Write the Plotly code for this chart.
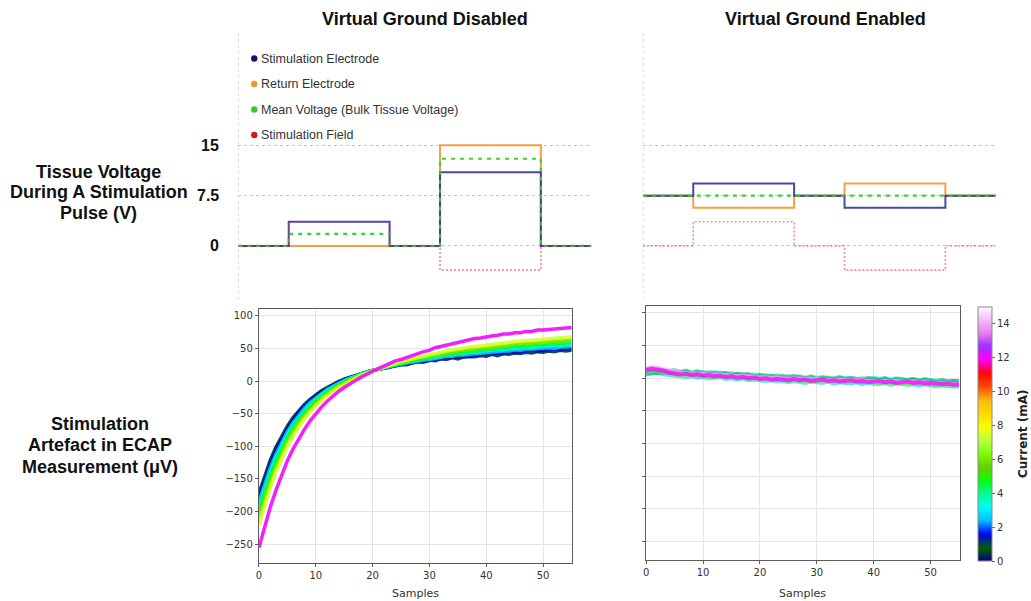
import numpy as np
import plotly.graph_objects as go

W, H = 1031, 601


def fx(p):
    return p / W


def fy(p):
    return 1 - p / H


# ---------------- top row: tissue voltage during the pulse ----------------
PULSE_T = [0, 1, 3, 4, 6, 7]

DIS_STIM = [0, 3.6, 0, 11, 0, 0]
DIS_RETURN = [0, 0, 0, 15, 0, 0]
DIS_MEAN = [0, 1.8, 0, 13, 0, 0]
DIS_FIELD = [0, 3.6, 0, -3.6, 0, 0]

EN_STIM = [7.5, 9.3, 7.5, 5.7, 7.5, 7.5]
EN_RETURN = [7.5, 5.7, 7.5, 9.3, 7.5, 7.5]
EN_MEAN = [7.5, 7.5, 7.5, 7.5, 7.5, 7.5]
EN_FIELD = [0, 3.6, 0, -3.6, 0, 0]

VOLT_TICKS = [0, 7.5, 15]
VOLT_TICK_TEXT = ["0", "7.5", "15"]

LEGEND_LABELS = ["Stimulation Electrode", "Return Electrode",
                 "Mean Voltage (Bulk Tissue Voltage)", "Stimulation Field"]

# ---------------- bottom row: stimulation artefact (uV) ----------------
SAMPLES = list(range(56))

# artefact with virtual ground disabled, one trace per stimulation current (mA)
DIS_CURRENTS = [0.5, 1.5, 2.5, 3.5, 4.5, 6, 7.5, 12]
DIS_ART_0p5 = [-172, -145, -121, -101, -84, -69, -56, -45, -36, -28, -21, -15, -10, -5, -1, 3, 6, 9, 12, 14,
               16, 18, 19, 22, 23, 25, 25, 28, 29, 29, 32, 31, 34, 33, 36, 34, 37, 37, 37, 39,
               38, 41, 39, 42, 41, 43, 42, 44, 43, 45, 44, 46, 45, 47, 46, 47]
DIS_ART_1p5 = [-179, -151, -127, -106, -89, -73, -60, -48, -39, -31, -23, -17, -12, -6, -2, 2, 5, 8, 12, 14,
               16, 18, 20, 22, 24, 25, 27, 28, 30, 30, 32, 33, 34, 36, 36, 38, 37, 39, 40, 40,
               41, 41, 43, 42, 44, 44, 45, 45, 47, 46, 48, 48, 49, 48, 50, 50]
DIS_ART_2p5 = [-185, -157, -133, -112, -94, -78, -64, -52, -42, -33, -26, -19, -13, -8, -3, 1, 4, 8, 11, 14,
               16, 18, 20, 23, 24, 26, 28, 29, 31, 32, 33, 35, 36, 38, 38, 40, 40, 41, 42, 43,
               43, 45, 45, 46, 46, 48, 47, 49, 49, 50, 50, 51, 50, 52, 52, 53]
DIS_ART_3p5 = [-193, -164, -139, -118, -99, -82, -68, -56, -46, -36, -28, -21, -15, -10, -5, 0, 4, 7, 11, 13,
               16, 18, 21, 23, 25, 27, 28, 31, 32, 34, 35, 36, 38, 40, 40, 42, 42, 44, 44, 46,
               46, 47, 49, 48, 50, 50, 51, 52, 51, 53, 53, 54, 55, 54, 56, 56]
DIS_ART_4p5 = [-199, -170, -145, -123, -104, -87, -72, -59, -49, -39, -31, -23, -17, -11, -6, -1, 3, 6, 10, 13,
               16, 18, 21, 24, 25, 28, 29, 31, 33, 35, 36, 38, 40, 41, 42, 43, 45, 46, 46, 48,
               48, 49, 51, 51, 52, 53, 53, 54, 55, 56, 55, 57, 57, 58, 58, 59]
DIS_ART_6 = [-209, -180, -153, -131, -111, -93, -78, -64, -53, -43, -34, -26, -20, -13, -8, -3, 2, 5, 9, 13,
             16, 19, 21, 24, 26, 29, 30, 33, 35, 37, 38, 40, 42, 43, 45, 46, 47, 48, 50, 51,
             52, 52, 54, 54, 55, 56, 57, 57, 58, 59, 60, 60, 61, 61, 62, 63]
DIS_ART_7p5 = [-220, -190, -163, -139, -119, -100, -84, -70, -58, -47, -38, -30, -22, -15, -10, -5, 0, 4, 9, 12,
               15, 19, 22, 25, 27, 30, 32, 34, 37, 39, 40, 42, 45, 46, 48, 49, 51, 52, 53, 54,
               55, 57, 57, 58, 59, 60, 61, 62, 62, 63, 64, 65, 65, 66, 67, 68]
DIS_ART_12 = [-255, -222, -193, -167, -144, -122, -104, -88, -74, -61, -50, -40, -31, -23, -16, -10, -4, 1, 6, 11,
              15, 19, 23, 26, 31, 33, 36, 40, 42, 45, 47, 51, 53, 55, 58, 59, 62, 63, 65, 66,
              68, 69, 70, 72, 72, 74, 74, 76, 76, 78, 78, 79, 80, 80, 82, 82]
DIS_ARTEFACTS = [DIS_ART_0p5, DIS_ART_1p5, DIS_ART_2p5, DIS_ART_3p5,
                 DIS_ART_4p5, DIS_ART_6, DIS_ART_7p5, DIS_ART_12]

# artefact with virtual ground enabled
EN_CURRENTS = [1, 2.5, 4, 6, 13, 14, 12]
EN_ART_1 = [7, 9, 8, 9, 8, 10, 9, 11, 8, 10, 9, 7, 9, 7, 8, 5, 7, 5, 6, 3, 5, 3, 4, 2, 3, 1, 3, 2,
            0, 2, -1, 1, 0, -1, 1, -1, 0, -1, -2, 0, -1, -2, 0, -3, -1, -2, -3, -1, -4, -2, -3, -5, -3, -5, -4, -5]
EN_ART_2p5 = [6, 7, 8, 6, 5, 4, 3, 2, 3, 1, 2, 0, 1, 2, -1, 0, -2, 0, -3, -2, -3, -4, -3, -5, -4, -6, -4, -5,
              -7, -5, -6, -7, -5, -8, -6, -7, -8, -6, -9, -7, -8, -9, -7, -10, -8, -9, -10, -9, -11, -9, -10, -12, -11, -12, -13, -12]
EN_ART_4 = [10, 12, 13, 12, 11, 13, 10, 12, 9, 11, 8, 10, 8, 9, 7, 8, 6, 7, 5, 6, 4, 5, 3, 5, 2, 4, 2, 3,
            1, 3, 1, 2, 1, 0, 2, 0, 1, -1, 0, -1, 1, -1, 0, -2, 0, -1, -2, -1, -3, -1, -3, -4, -3, -4, -6, -4]
EN_ART_6 = [9, 10, 12, 9, 8, 5, 6, 4, 5, 3, 4, 2, 3, 3, 1, 2, 0, 1, -1, 0, -2, -1, -2, -3, -2, -4, -3, -4,
            -3, -5, -4, -3, -5, -5, -4, -6, -5, -6, -6, -5, -7, -6, -7, -7, -8, -7, -7, -9, -8, -8, -10, -9, -10, -11, -10, -12]
EN_ART_13 = [12, 14, 15, 12, 11, 9, 9, 8, 7, 8, 6, 7, 5, 6, 5, 4, 5, 3, 3, 2, 2, 1, 2, 0, 0, 1, -1, 0,
             -1, -1, -2, -1, -1, -2, -3, -2, -2, -3, -3, -4, -3, -3, -4, -5, -4, -4, -5, -6, -5, -6, -6, -7, -7, -7, -8, -8]
EN_ART_14 = [15, 17, 16, 14, 12, 10, 9, 8, 8, 7, 7, 6, 6, 5, 5, 4, 4, 3, 3, 2, 2, 1, 1, 1, 0, 0, 0, -1,
             -1, -1, -1, -2, -2, -2, -3, -2, -3, -3, -3, -4, -4, -3, -4, -5, -4, -5, -5, -6, -6, -6, -7, -7, -8, -8, -9, -9]
EN_ART_12 = [13, 15, 13, 12, 9, 8, 6, 7, 5, 6, 4, 5, 3, 4, 2, 3, 1, 2, 0, 1, -1, 0, -2, -1, -2, -3, -1, -3,
             -2, -4, -3, -2, -4, -3, -5, -4, -3, -5, -4, -6, -5, -4, -6, -5, -7, -6, -5, -7, -6, -8, -7, -8, -9, -8, -10, -10]
EN_ARTEFACTS = [EN_ART_1, EN_ART_2p5, EN_ART_4, EN_ART_6, EN_ART_13, EN_ART_14, EN_ART_12]

CURRENT_MAX = 15
CURRENT_TICKS = [0, 2, 4, 6, 8, 10, 12, 14]
ART_TICKS = [-250, -200, -150, -100, -50, 0, 50, 100]
SAMPLE_TICKS = [0, 10, 20, 30, 40, 50]

# ---------------- gist_ncar colour map ----------------
_NCAR_R = [(0.0, 0.0), (0.3098, 0.0), (0.3725, 0.3993), (0.4235, 0.5003), (0.5333, 1.0),
           (0.7922, 1.0), (0.8471, 0.6218), (0.8980, 0.9235), (1.0, 0.9961)]
_NCAR_G = [(0.0, 0.0), (0.0510, 0.3722), (0.1059, 0.0), (0.1569, 0.7202), (0.1608, 0.7537),
           (0.1647, 0.7752), (0.2157, 1.0), (0.2588, 0.9804), (0.2706, 0.9804), (0.3176, 1.0),
           (0.3686, 0.8081), (0.4275, 1.0), (0.5216, 1.0), (0.6314, 0.7292), (0.6863, 0.2796),
           (0.7451, 0.0), (0.7922, 0.0), (0.8431, 0.1753), (0.8980, 0.5), (1.0, 0.9725)]
_NCAR_B = [(0.0, 0.5020), (0.0510, 0.0222), (0.1098, 1.0), (0.2039, 1.0), (0.2627, 0.6145),
           (0.3216, 0.0), (0.4157, 0.0), (0.4745, 0.2342), (0.5333, 0.0), (0.5804, 0.0),
           (0.6314, 0.0549), (0.6902, 0.0), (0.7373, 0.0), (0.7922, 0.9738), (0.8000, 1.0),
           (0.8431, 1.0), (0.8980, 0.9341), (1.0, 0.9961)]


def ncar(v):
    v = min(max(v, 0.0), 1.0)
    chans = []
    for tab in (_NCAR_R, _NCAR_G, _NCAR_B):
        xs, ys = zip(*tab)
        chans.append(int(round(255 * float(np.interp(v, xs, ys)))))
    return "rgb({},{},{})".format(*chans)


NCAR_SCALE = [[float(p), ncar(float(p))] for p in np.linspace(0, 1, 81)]

# ---------------- styles ----------------
C_STIM = "rgba(40,40,150,0.85)"
C_RETURN = "rgba(246,155,55,0.95)"
C_MEAN = "rgba(50,205,50,0.95)"
C_FIELD = "rgba(220,50,70,0.55)"
LEGEND_DOTS = ["#14145e", "#f6952f", "#2ecc2e", "#c81e1e"]
FONT = "Liberation Sans"
TICKFONT = dict(family="DejaVu Sans", size=10, color="#333")
FRAME = "#5c5c5c"

fig = go.Figure()


def pulse_traces(xa, ya, stim, ret, mean, field):
    fig.add_trace(go.Scatter(x=PULSE_T, y=ret, mode="lines", line_shape="hv",
                             line=dict(color=C_RETURN, width=2), xaxis=xa, yaxis=ya))
    fig.add_trace(go.Scatter(x=PULSE_T, y=stim, mode="lines", line_shape="hv",
                             line=dict(color=C_STIM, width=2), xaxis=xa, yaxis=ya))
    fig.add_trace(go.Scatter(x=PULSE_T, y=mean, mode="lines", line_shape="hv",
                             line=dict(color=C_MEAN, width=2.2, dash="4px,5px"), xaxis=xa, yaxis=ya))
    fig.add_trace(go.Scatter(x=PULSE_T, y=field, mode="lines", line_shape="hv",
                             line=dict(color=C_FIELD, width=1.6, dash="2px,2px"), xaxis=xa, yaxis=ya))


pulse_traces("x", "y", DIS_STIM, DIS_RETURN, DIS_MEAN, DIS_FIELD)
pulse_traces("x2", "y2", EN_STIM, EN_RETURN, EN_MEAN, EN_FIELD)

for cur, vals in zip(DIS_CURRENTS, DIS_ARTEFACTS):
    fig.add_trace(go.Scatter(x=SAMPLES, y=vals, mode="lines",
                             line=dict(color=ncar(cur / CURRENT_MAX), width=3.5),
                             opacity=0.9, xaxis="x3", yaxis="y3"))

for cur, vals in zip(EN_CURRENTS, EN_ARTEFACTS):
    fig.add_trace(go.Scatter(x=SAMPLES, y=vals, mode="lines",
                             line=dict(color=ncar(cur / CURRENT_MAX), width=4),
                             opacity=0.6 if cur < 10 else 0.75, xaxis="x4", yaxis="y4"))

# colour scale for stimulation current
fig.add_trace(go.Scatter(
    x=[-100], y=[0], mode="markers", xaxis="x4", yaxis="y4", hoverinfo="skip",
    marker=dict(color=[0], cmin=0, cmax=CURRENT_MAX, colorscale=NCAR_SCALE, showscale=True,
                colorbar=dict(x=fx(978), xanchor="left", xpad=0, y=fy(434), yanchor="middle",
                              ypad=0, len=254, lenmode="pixels", thickness=14,
                              outlinewidth=1, outlinecolor="#8a8a8a",
                              tickvals=CURRENT_TICKS, ticks="outside", ticklen=3,
                              tickcolor="#666", tickfont=TICKFONT))))

top_y = dict(range=[-8.06, 32.2], tickvals=VOLT_TICKS, showgrid=True, griddash="dot",
             gridcolor="#c4c4c4", gridwidth=1.2, zeroline=False, showline=False, ticks="",
             showticklabels=False)
bx = dict(range=[0, 55.1], tickvals=SAMPLE_TICKS, showgrid=True, gridcolor="#e4e4e4",
          showline=True, linecolor=FRAME, linewidth=1.2, mirror=True, ticks="outside",
          ticklen=3, tickcolor=FRAME, tickfont=TICKFONT, zeroline=False)
by = dict(tickvals=ART_TICKS, showgrid=True, gridcolor="#e4e4e4", showline=True,
          linecolor=FRAME, linewidth=1.2, mirror=True, ticks="outside", ticklen=3,
          tickcolor=FRAME, tickfont=TICKFONT, zeroline=False)

fig.update_layout(
    width=W, height=H, margin=dict(l=0, r=0, t=0, b=0),
    paper_bgcolor="white", plot_bgcolor="white", showlegend=False,
    xaxis=dict(domain=[fx(236), fx(590)], range=[0, 7], visible=False),
    yaxis=dict(domain=[fy(300), fy(30)], anchor="x", **top_y),
    xaxis2=dict(domain=[fx(641.7), fx(995.7)], range=[0, 7], visible=False),
    yaxis2=dict(domain=[fy(300), fy(30)], anchor="x2", **top_y),
    xaxis3=dict(domain=[fx(256.7), fx(570.7)], anchor="y3", **bx),
    yaxis3=dict(domain=[fy(563.3), fy(309)], anchor="x3", range=[-279.1, 110.3], **by),
    xaxis4=dict(domain=[fx(645), fx(959.3)], anchor="y4", **bx),
    yaxis4=dict(domain=[fy(560), fy(306)], anchor="x4", range=[-278.1, 110.7],
                showticklabels=False, **by),
)

# voltage tick labels, placed on the voltage scale
for v, t in zip(VOLT_TICKS, VOLT_TICK_TEXT):
    fig.add_annotation(x=fx(219), y=v, xref="paper", yref="y", xanchor="right", yanchor="middle",
                       text="<b>%s</b>" % t, showarrow=False,
                       font=dict(family=FONT, size=16, color="#111"))

# dotted left edges of the pulse panels
for xr in ("x", "x2"):
    fig.add_shape(type="line", xref=xr, yref="paper", x0=0, x1=0, y0=fy(300), y1=fy(30),
                  line=dict(color="#c4c4c4", width=1.2, dash="dot"))

# legend
for i, (lab, col) in enumerate(zip(LEGEND_LABELS, LEGEND_DOTS)):
    yy = fy(58.5 + 25.5 * i)
    fig.add_shape(type="circle", xref="paper", yref="paper", xsizemode="pixel", ysizemode="pixel",
                  xanchor=fx(252), yanchor=yy, x0=-3.2, x1=3.2, y0=-3.2, y1=3.2,
                  fillcolor=col, line=dict(width=0))
    fig.add_annotation(x=fx(257), y=yy, xref="paper", yref="paper", xanchor="left", yanchor="middle",
                       text=lab, showarrow=False, font=dict(family=FONT, size=12.5, color="#333"))

# headings and row labels, one line each
TEXT_LINES = [
    (423, 19, "Virtual Ground Disabled"),
    (825, 19, "Virtual Ground Enabled"),
    (96, 172.5, "Tissue Voltage"),
    (96, 192.5, "During A Stimulation"),
    (96, 212.5, "Pulse (V)"),
    (97, 423.5, "Stimulation"),
    (97, 445, "Artefact in ECAP"),
    (97, 466.5, "Measurement (\u03bcV)"),
]
for x, y, t in TEXT_LINES:
    fig.add_annotation(x=fx(x), y=fy(y), xref="paper", yref="paper", xanchor="center",
                       yanchor="middle", text="<b>%s</b>" % t, showarrow=False,
                       font=dict(family=FONT, size=18, color="#111"))

fig.add_annotation(x=fx(1023), y=fy(434), xref="paper", yref="paper", xanchor="center",
                   yanchor="middle", text="<b>Current (mA)</b>", textangle=-90, showarrow=False,
                   font=dict(family="DejaVu Sans", size=12, color="#222"))

for cx in (fx((256.7 + 570.7) / 2), fx((645 + 959.3) / 2)):
    fig.add_annotation(x=cx, y=fy(593), xref="paper", yref="paper", xanchor="center",
                       yanchor="middle", text="Samples", showarrow=False,
                       font=dict(family="DejaVu Sans", size=11, color="#333"))

fig.write_html("out.html")
